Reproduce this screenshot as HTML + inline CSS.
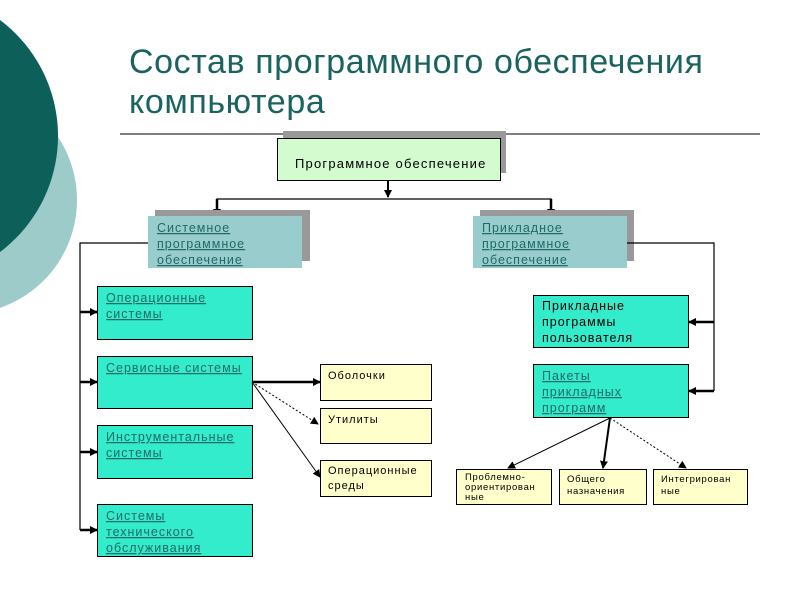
<!DOCTYPE html>
<html><head><meta charset="utf-8"><style>
html,body{margin:0;padding:0;background:#fff;}
svg{display:block;}
text{font-family:"Liberation Sans","DejaVu Sans",sans-serif;}
.u{fill:#1f6b68;text-decoration:underline;}
.s{letter-spacing:1px;}
</style></head><body>
<svg width="800" height="600" viewBox="0 0 800 600" xmlns="http://www.w3.org/2000/svg">
<defs>
<marker id="a" markerWidth="8" markerHeight="8" refX="7" refY="4" orient="auto" markerUnits="userSpaceOnUse"><path d="M0,0 L8,4 L0,8 z" fill="#000"/></marker>
</defs>
<circle cx="-37" cy="200" r="114" fill="#9ccbc9"/>
<circle cx="-87" cy="136" r="145" fill="#0d5f5a"/>
<text x="129" y="73" font-size="34" fill="#1a6360" letter-spacing="0.6">Состав программного обеспечения</text>
<text x="129" y="113" font-size="34" fill="#1a6360" letter-spacing="0.6">компьютера</text>
<line x1="120" y1="134" x2="760" y2="134" stroke="#000" stroke-width="1"/>

<rect x="283" y="131" width="223" height="42" fill="#999"/>
<rect x="277.5" y="138.5" width="223" height="42" fill="#d4fbcf" stroke="#000"/>
<text x="295" y="168" font-size="13" letter-spacing="1.2">Программное обеспечение</text>

<line x1="388" y1="180" x2="388" y2="197" stroke="#000" stroke-width="2" marker-end="url(#a)"/>
<polyline points="217,205 217,199 551,199 551,205" fill="none" stroke="#000" stroke-width="1.3"/>
<line x1="217" y1="199" x2="217" y2="216" stroke="#000" stroke-width="2.5" marker-end="url(#a)"/>
<line x1="551" y1="199" x2="551" y2="216" stroke="#000" stroke-width="2.5" marker-end="url(#a)"/>

<rect x="155" y="210" width="155" height="51" fill="#999"/>
<rect x="148" y="216" width="154" height="52" fill="#99cccc"/>
<text font-size="12.5" class="u s"><tspan x="157" y="232">Системное</tspan><tspan x="157" y="248">программное</tspan><tspan x="157" y="264">обеспечение</tspan></text>

<rect x="480" y="210" width="154" height="51" fill="#999"/>
<rect x="473" y="216" width="154" height="52" fill="#99cccc"/>
<text font-size="12.5" class="u s"><tspan x="482" y="232">Прикладное</tspan><tspan x="482" y="248">программное</tspan><tspan x="482" y="264">обеспечение</tspan></text>

<polyline points="148,243 80,243 80,530" fill="none" stroke="#000" stroke-width="1.2"/>
<g stroke="#000" stroke-width="2.5">
<line x1="80" y1="312" x2="97" y2="312" marker-end="url(#a)"/>
<line x1="80" y1="382" x2="97" y2="382" marker-end="url(#a)"/>
<line x1="80" y1="452" x2="97" y2="452" marker-end="url(#a)"/>
<line x1="80" y1="530" x2="97" y2="530" marker-end="url(#a)"/>
</g>
<g fill="#33eccb" stroke="#000">
<rect x="97.5" y="286.5" width="155" height="53"/>
<rect x="97.5" y="356.5" width="155" height="52"/>
<rect x="97.5" y="425.5" width="155" height="53"/>
<rect x="97.5" y="504.5" width="155" height="52"/>
</g>
<text font-size="12.5" class="u s"><tspan x="106" y="302">Операционные</tspan><tspan x="106" y="318">системы</tspan></text>
<text font-size="12.5" class="u s"><tspan x="106" y="372">Сервисные системы</tspan></text>
<text font-size="12.5" class="u s"><tspan x="106" y="441">Инструментальные</tspan><tspan x="106" y="457">системы</tspan></text>
<text font-size="12.5" class="u s"><tspan x="106" y="520">Системы</tspan><tspan x="106" y="536">технического</tspan><tspan x="106" y="552">обслуживания</tspan></text>

<g fill="#ffffcc" stroke="#000">
<rect x="320.5" y="364.5" width="111" height="36"/>
<rect x="320.5" y="408.5" width="111" height="35"/>
<rect x="320.5" y="460.5" width="111" height="36"/>
</g>
<text font-size="11" class="s"><tspan x="328" y="379">Оболочки</tspan></text>
<text font-size="11" class="s"><tspan x="328" y="423">Утилиты</tspan></text>
<text font-size="11" class="s"><tspan x="328" y="474">Операционные</tspan><tspan x="328" y="489">среды</tspan></text>
<line x1="252" y1="382" x2="320" y2="382" stroke="#000" stroke-width="2.5" marker-end="url(#a)"/>
<line x1="252" y1="382" x2="318" y2="424" stroke="#000" stroke-width="1" stroke-dasharray="2,2" marker-end="url(#a)"/>
<line x1="252" y1="382" x2="320" y2="477" stroke="#000" stroke-width="1" marker-end="url(#a)"/>

<polyline points="627,243 714,243 714,391" fill="none" stroke="#000" stroke-width="1.2"/>
<line x1="714" y1="322" x2="689" y2="322" stroke="#000" stroke-width="2.5" marker-end="url(#a)"/>
<line x1="714" y1="391" x2="689" y2="391" stroke="#000" stroke-width="2.5" marker-end="url(#a)"/>
<g fill="#33eccb" stroke="#000">
<rect x="533.5" y="295.5" width="155" height="52"/>
<rect x="533.5" y="364.5" width="155" height="53"/>
</g>
<text font-size="12.5" class="s"><tspan x="542" y="310">Прикладные</tspan><tspan x="542" y="326">программы</tspan><tspan x="542" y="342">пользователя</tspan></text>
<text font-size="12.5" class="u s"><tspan x="542" y="380">Пакеты</tspan><tspan x="542" y="396">прикладных</tspan><tspan x="542" y="412">программ</tspan></text>

<line x1="610" y1="418" x2="508" y2="468" stroke="#000" stroke-width="1" marker-end="url(#a)"/>
<line x1="610" y1="418" x2="603" y2="468" stroke="#000" stroke-width="2" marker-end="url(#a)"/>
<line x1="610" y1="418" x2="686" y2="468" stroke="#000" stroke-width="1" stroke-dasharray="2,2" marker-end="url(#a)"/>
<g fill="#ffffcc" stroke="#000">
<rect x="456.5" y="469.5" width="95" height="35"/>
<rect x="559.5" y="469.5" width="87" height="35"/>
<rect x="653.5" y="469.5" width="94" height="35"/>
</g>
<text font-size="9.5" letter-spacing="0.7"><tspan x="465" y="480">Проблемно-</tspan><tspan x="465" y="490">ориентирован</tspan><tspan x="465" y="500">ные</tspan></text>
<text font-size="9.5" letter-spacing="0.7"><tspan x="567" y="482">Общего</tspan><tspan x="567" y="494">назначения</tspan></text>
<text font-size="9.5" letter-spacing="0.7"><tspan x="661" y="482">Интегрирован</tspan><tspan x="661" y="494">ные</tspan></text>
</svg>
</body></html>
